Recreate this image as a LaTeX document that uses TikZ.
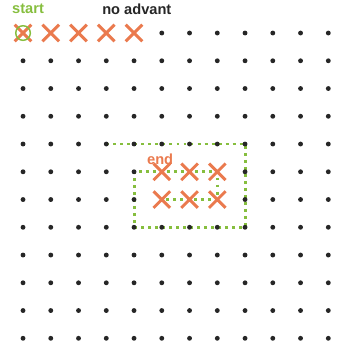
\documentclass[tikz,border=0pt]{standalone}
\usepackage{fontspec}
\setmainfont{Liberation Sans}
\usetikzlibrary{shapes.misc}
\definecolor{crossorange}{RGB}{234,122,78}
\definecolor{pathgreen}{RGB}{134,190,62}
\begin{document}
\begin{tikzpicture}[
  pt/.style={circle, fill=black!85, inner sep=0pt, minimum size=5pt},
  hit/.style={cross out, draw=crossorange, line width=3pt, minimum size=14pt, inner sep=0pt},
  lbl/.style={font=\fontsize{15}{15}\selectfont\bfseries, inner sep=0pt},
  trail/.style={draw=pathgreen, line width=3pt, dash pattern=on 3pt off 4.2pt}
]
  \useasboundingbox (-0.83,1.19) rectangle (12.07,-11.71);

  %-- Spiral region
  \foreach \c/\r in {3/4,8/4,8/7,4/7,4/5,7/5,7/6,5/6}
    \coordinate (s\c\r) at (\c,-\r);
  \draw[trail] (s34) -- (s84) -- (s87) -- (s47) -- (s45) -- (s75) -- (s76) -- (s56);

  %-- Grid
  \foreach \r in {0,...,11}
    \foreach \c in {0,...,11}{
      \pgfmathtruncatemacro{\skip}{(\r==0 && \c<5) || ((\r==5 || \r==6) && \c>4 && \c<8)}
      \ifnum\skip=0
        \node[pt] (g-\c-\r) at (\c,-\r) {};
      \fi
    }

  %-- Visited
  \foreach \c in {0,...,4}
    \node[hit] (v-\c) at (\c,0) {};
  \foreach \c in {5,6,7}{
    \node[hit] (e-\c-5) at (\c,-5) {};
    \node[hit] (e-\c-6) at (\c,-6) {};
  }
  \node[circle, draw=pathgreen, line width=1.5pt, minimum size=15pt] (ring) at (v-0) {};

  %-- Labels
  \node[lbl, text=pathgreen]   (start) at (0.18,0.86)  {start};
  \node[lbl, text=black!85]    (noadv) at (4.1,0.86)   {no advant};
  \node[lbl, text=crossorange] (end)   at (4.94,-4.54) {end};
\end{tikzpicture}
\end{document}
